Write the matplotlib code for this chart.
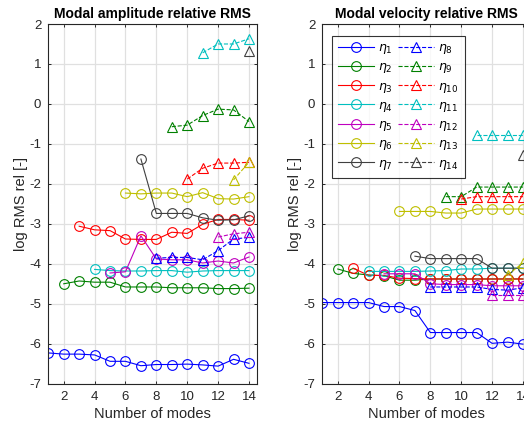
import matplotlib
matplotlib.use("Agg")
import matplotlib.pyplot as plt

plt.rcParams['font.family'] = ['Liberation Sans', 'DejaVu Sans']
plt.rcParams['mathtext.fontset'] = 'dejavusans'
plt.rcParams['axes.unicode_minus'] = False

# ---------------- data ----------------
# amplitude relative RMS (log) per mode; mode i exists for number of modes >= i
amp_eta1 = [-6.23, -6.26, -6.26, -6.28, -6.44, -6.44, -6.55, -6.52, -6.52, -6.51, -6.53, -6.56, -6.39, -6.49]
amp_eta2 = [-4.50, -4.43, -4.46, -4.46, -4.58, -4.58, -4.58, -4.60, -4.60, -4.60, -4.62, -4.62, -4.61]
amp_eta3 = [-3.06, -3.15, -3.17, -3.38, -3.39, -3.39, -3.21, -3.24, -3.01, -2.89, -2.89, -2.91]
amp_eta4 = [-4.14, -4.17, -4.18, -4.18, -4.17, -4.17, -4.21, -4.18, -4.17, -4.17, -4.17]
amp_eta5 = [-4.23, -4.20, -3.30, -3.88, -3.90, -3.90, -3.98, -3.93, -3.98, -3.83]
amp_eta6 = [-2.23, -2.25, -2.23, -2.23, -2.32, -2.22, -2.37, -2.38, -2.32]
amp_eta7 = [-1.38, -2.74, -2.74, -2.74, -2.85, -2.91, -2.90, -2.80]
amp_eta8 = [-3.86, -3.84, -3.84, -3.90, -3.67, -3.38, -3.34]
amp_eta9 = [-0.57, -0.53, -0.29, -0.13, -0.15, -0.44]
amp_eta10 = [-1.88, -1.61, -1.48, -1.48, -1.46]
amp_eta11 = [1.28, 1.50, 1.50, 1.63]
amp_eta12 = [-3.33, -3.25, -3.21]
amp_eta13 = [-1.90, -1.46]
amp_eta14 = [1.33]

vel_eta1 = [-4.97, -4.97, -4.97, -4.97, -5.07, -5.07, -5.17, -5.72, -5.72, -5.72, -5.72, -5.99, -5.96, -6.01]
vel_eta2 = [-4.13, -4.24, -4.28, -4.30, -4.41, -4.41, -4.38, -4.38, -4.38, -4.38, -4.38, -4.38, -4.38]
vel_eta3 = [-4.11, -4.29, -4.29, -4.36, -4.37, -4.38, -4.38, -4.38, -4.38, -4.38, -4.38, -4.38]
vel_eta4 = [-4.19, -4.19, -4.19, -4.19, -4.18, -4.17, -4.13, -4.13, -4.11, -4.11, -4.11]
vel_eta5 = [-4.25, -4.25, -4.25, -4.50, -4.52, -4.52, -4.52, -4.55, -4.55, -4.55]
vel_eta6 = [-2.69, -2.69, -2.69, -2.73, -2.73, -2.63, -2.63, -2.63, -2.63]
vel_eta7 = [-3.81, -3.87, -3.87, -3.87, -3.87, -4.11, -4.11, -4.11]
vel_eta8 = [-4.58, -4.58, -4.58, -4.58, -4.64, -4.66, -4.60]
vel_eta9 = [-2.32, -2.32, -2.08, -2.08, -2.08, -2.08]
vel_eta10 = [-2.38, -2.32, -2.32, -2.32, -2.32]
vel_eta11 = [-0.77, -0.77, -0.77, -0.77]
vel_eta12 = [-4.79, -4.79, -4.79]
vel_eta13 = [-4.28, -3.98]
vel_eta14 = [-1.28]

amp_series = [amp_eta1, amp_eta2, amp_eta3, amp_eta4, amp_eta5, amp_eta6, amp_eta7,
              amp_eta8, amp_eta9, amp_eta10, amp_eta11, amp_eta12, amp_eta13, amp_eta14]
vel_series = [vel_eta1, vel_eta2, vel_eta3, vel_eta4, vel_eta5, vel_eta6, vel_eta7,
              vel_eta8, vel_eta9, vel_eta10, vel_eta11, vel_eta12, vel_eta13, vel_eta14]
labels = [r'$\eta_{%d}$' % i for i in range(1, 15)]

xticks = [2, 4, 6, 8, 10, 12, 14]
yticks = [-7, -6, -5, -4, -3, -2, -1, 0, 1, 2]

# ---------------- style ----------------
colors = [(0, 0, 1), (0, 0.5, 0), (1, 0, 0), (0, 0.75, 0.75),
          (0.75, 0, 0.75), (0.75, 0.75, 0), (0.25, 0.25, 0.25)]
axc = (0.15, 0.15, 0.15)

fig = plt.figure(figsize=(5.24, 4.25), dpi=100)
W, H = 524, 425
ax_w, ax_h = 208.4 / W, 359.7 / H
bottom = 41.3 / H
ax1 = fig.add_axes([48.3 / W, bottom, ax_w, ax_h])
ax2 = fig.add_axes([322.3 / W, bottom, ax_w, ax_h])


def draw(ax, series, title):
    handles = []
    for i, vals in enumerate(series):
        start = i + 1
        xs = list(range(start, start + len(vals)))
        c = colors[i % 7]
        tri = i >= 7
        h, = ax.plot(xs, vals, color=c, lw=0.8,
                     ls='--' if tri else '-',
                     marker='^' if tri else 'o', ms=7.3 if tri else 7.0,
                     mfc='none', mec=c, mew=0.8, label=labels[i])
        handles.append(h)
    ax.set_xlim(1, 14.5)
    ax.set_ylim(-7, 2)
    ax.set_xticks(xticks)
    ax.set_yticks(yticks)
    ax.grid(True, color=(0.88, 0.88, 0.88), lw=0.9)
    ax.set_axisbelow(True)
    ax.tick_params(direction='in', length=2.5, width=0.7, top=True, right=True,
                   labelsize=9.5, colors=axc, pad=5)
    for s in ax.spines.values():
        s.set_color(axc)
        s.set_linewidth(0.8)
    ax.set_title(title, fontsize=10, fontweight='bold', pad=4, color='black')
    ax.set_xlabel('Number of modes', fontsize=10.5, color=axc, labelpad=3)
    ax.set_ylabel('log RMS rel [-]', fontsize=10.5, color=axc, labelpad=1)
    return handles


draw(ax1, amp_series, 'Modal amplitude relative RMS')
hs = draw(ax2, vel_series, 'Modal velocity relative RMS')

leg = ax2.legend(handles=hs, ncol=2, loc='upper left',
                 bbox_to_anchor=(0.045, 0.967), fontsize=9,
                 frameon=True, fancybox=False, edgecolor='black',
                 handlelength=2.9, handletextpad=0.3, columnspacing=0.4,
                 labelspacing=0.42, borderpad=0.5, borderaxespad=0)
leg.get_frame().set_linewidth(0.8)

fig.savefig('out.png', dpi=100)
